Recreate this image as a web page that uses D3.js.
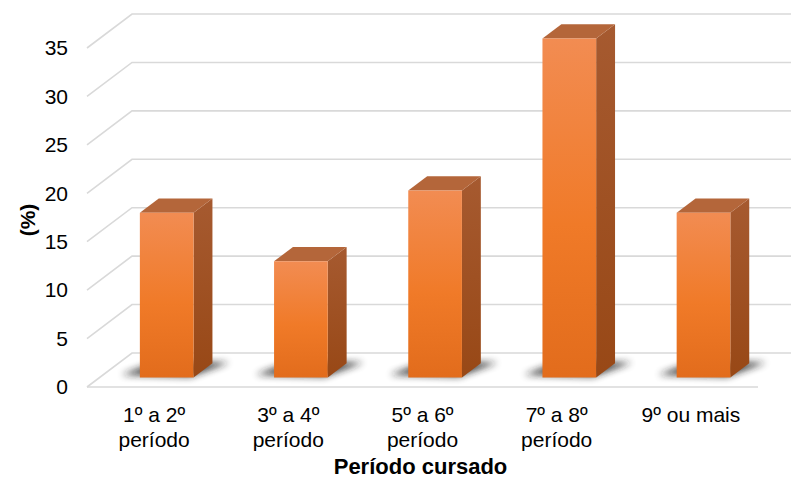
<!DOCTYPE html>
<html>
<head>
<meta charset="utf-8">
<script src="https://cdn.jsdelivr.net/npm/d3@7"></script>
<style>
  html, body { margin: 0; padding: 0; background: #fff; }
  svg { display: block; font-family: "Liberation Sans", Arial, sans-serif; }
</style>
</head>
<body>
<svg id="chart" width="791" height="483"></svg>
<script>
// Share of students by semester range (%)
const categories = [["1º a 2º", "período"], ["3º a 4º", "período"], ["5º a 6º", "período"], ["7º a 8º", "período"], ["9º ou mais"]];
const values = [17, 12, 19.3, 35, 17];
const yTicks = [0, 5, 10, 15, 20, 25, 30, 35];
const xTitle = "Período cursado";
const yTitle = "(%)";

const svg = d3.select("#chart");

// Oblique 3D frame: front floor edge, depth offset of the back wall
const x0 = 87, floorW = 671;
const depthDX = 45, depthDY = -34;
const zFront = 0.28, zBack = 0.70;

const x = d3.scaleBand().domain(d3.range(categories.length))
  .range([0, floorW]).paddingInner(0.6).paddingOuter(0.3);
const xc = d3.scaleBand().domain(d3.range(categories.length)).range([0, floorW]);
const y = d3.scaleLinear().domain([0, 35]).range([387, 48]);

// project (u along category axis, v value, z depth 0..1) to screen
const P = (u, v, z) => [x0 + u + z * depthDX, y(v) + z * depthDY];
const poly = pts => "M" + pts.map(p => p.join(",")).join("L") + "Z";

const defs = svg.append("defs");
const gFront = defs.append("linearGradient").attr("id", "gFront").attr("x1", 0).attr("y1", 0).attr("x2", 0).attr("y2", 1);
gFront.append("stop").attr("offset", "0%").attr("stop-color", "#f28c52");
gFront.append("stop").attr("offset", "55%").attr("stop-color", "#f07a28");
gFront.append("stop").attr("offset", "100%").attr("stop-color", "#e26c1c");
const gSide = defs.append("linearGradient").attr("id", "gSide").attr("x1", 0).attr("y1", 0).attr("x2", 0).attr("y2", 1);
gSide.append("stop").attr("offset", "0%").attr("stop-color", "#a65a30");
gSide.append("stop").attr("offset", "100%").attr("stop-color", "#984816");
const blur = defs.append("filter").attr("id", "shadowBlur")
  .attr("x", "-50%").attr("y", "-50%").attr("width", "200%").attr("height", "200%");
blur.append("feGaussianBlur").attr("stdDeviation", 3.5);

// gridlines: left wall diagonal + back wall horizontal
const grid = svg.append("g").attr("fill", "none").attr("stroke", "#d9d9d9").attr("stroke-width", 1.6);
yTicks.forEach(t => {
  const a = P(0, t, 0), b = P(0, t, 1), c = P(floorW + 60, t, 1);
  grid.append("path").attr("d", `M${a}L${b}L${c}`);
});
grid.append("path").attr("d", `M${P(0, 0, 0)}L${P(floorW, 0, 0)}`);

// tick labels on the front edge
svg.append("g").selectAll("text").data(yTicks).join("text")
  .attr("x", x0 - 19).attr("y", d => y(d)).attr("dy", "0.35em")
  .attr("text-anchor", "end").attr("font-size", 21).attr("fill", "#000")
  .text(d => d);

// floor shadows
svg.append("g").selectAll("path").data(values).join("path")
  .attr("filter", "url(#shadowBlur)").attr("fill", "#1e1e1e").attr("opacity", 0.8)
  .attr("d", (d, i) => {
    const u0 = x(i), u1 = x(i) + x.bandwidth();
    return poly([P(u0 - 22, 0, zFront + 0.08), P(u1 - 4, 0, zFront + 0.02), P(u1 + 16, 0, zBack + 0.02), P(u0 - 4, 0, zBack + 0.06)]);
  });

// bars
const bars = svg.append("g").selectAll("g").data(values).join("g");
bars.append("path").attr("fill", "url(#gSide)")
  .attr("d", (d, i) => {
    const u1 = x(i) + x.bandwidth();
    return poly([P(u1, 0, zFront), P(u1, 0, zBack), P(u1, d, zBack), P(u1, d, zFront)]);
  });
bars.append("path").attr("fill", "#b4663a")
  .attr("d", (d, i) => {
    const u0 = x(i), u1 = x(i) + x.bandwidth();
    return poly([P(u0, d, zFront), P(u1, d, zFront), P(u1, d, zBack), P(u0, d, zBack)]);
  });
bars.append("path").attr("fill", "url(#gFront)")
  .attr("d", (d, i) => {
    const u0 = x(i), u1 = x(i) + x.bandwidth();
    return poly([P(u0, 0, zFront), P(u1, 0, zFront), P(u1, d, zFront), P(u0, d, zFront)]);
  });

// category labels
const cl = svg.append("g").attr("font-size", 21).attr("fill", "#000").attr("text-anchor", "middle");
categories.forEach((lines, i) => {
  const cx = x0 + xc(i) + xc.bandwidth() / 2;
  const t = cl.append("text").attr("x", cx).attr("y", 422);
  lines.forEach((s, j) => t.append("tspan").attr("x", cx).attr("dy", j ? 25 : 0).text(s));
});

// axis titles
svg.append("text").attr("x", x0 + floorW / 2 - 2).attr("y", 474)
  .attr("text-anchor", "middle").attr("font-size", 22).attr("font-weight", "bold").text(xTitle);
svg.append("text").attr("transform", "translate(35,220) rotate(-90)")
  .attr("text-anchor", "middle").attr("font-size", 21).attr("font-weight", "bold").text(yTitle);
</script>
</body>
</html>
